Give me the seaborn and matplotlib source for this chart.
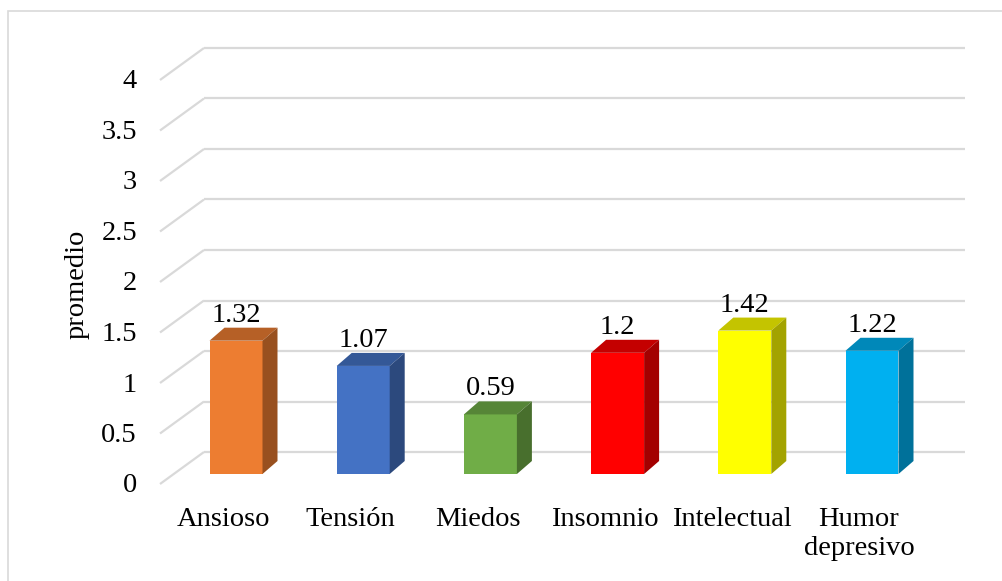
import matplotlib
matplotlib.use("Agg")
import matplotlib.pyplot as plt
from matplotlib.patches import Polygon, Rectangle
import matplotlib.colors as mcolors
import seaborn as sns
import pandas as pd

# Data
categories = ["Ansioso", "Tensión", "Miedos", "Insomnio", "Intelectual", "Humor\ndepresivo"]
values = [1.32, 1.07, 0.59, 1.2, 1.42, 1.22]
colors = ["#ED7D31", "#4472C4", "#70AD47", "#FF0000", "#FFFF00", "#00B0F0"]
yticks = [0, 0.5, 1, 1.5, 2, 2.5, 3, 3.5, 4]
ytick_labels = ["0", "0.5", "1", "1.5", "2", "2.5", "3", "3.5", "4"]
ylabel = "promedio"

sns.set_style("white")
plt.rcParams["font.family"] = ["Liberation Serif", "DejaVu Serif"]
FS = 20.5

W, H = 1002, 581
fig = plt.figure(figsize=(W / 100, H / 100), dpi=100)
ax = fig.add_axes([0, 0, 1, 1])

# Geometry of the pseudo-3D frame (pixel sizes converted to data units)
CAT_PX = 127.2           # pixels between category centres
VAL_PX = 101.0           # pixels per unit of value
X0_PX, Y0_PX = 236, 474  # pixel position of first category centre / value 0 on bar faces
px_x = 1.0 / CAT_PX
px_y = 1.0 / VAL_PX

xmin = -X0_PX * px_x
ymin = -(H - Y0_PX) * px_y

# Depth of the frame: back wall and front edge relative to bar faces
back_dy = 22 * px_y
front_dy = -10 * px_y
back_x0 = xmin + 204 * px_x
back_x1 = xmin + 965 * px_x
front_x = xmin + 160 * px_x
grid_col = "#D9D9D9"

for v, lab in zip(yticks, ytick_labels):
    ax.plot([back_x0, back_x1], [v + back_dy, v + back_dy], color=grid_col, lw=1.6,
            zorder=0, solid_capstyle="butt")
    ax.plot([front_x, back_x0], [v + front_dy, v + back_dy], color=grid_col, lw=1.6,
            zorder=0, solid_capstyle="butt")
    ax.text(xmin + 137 * px_x, v + front_dy - 2 * px_y, lab, ha="right", va="center",
            fontsize=FS, color="black")

# Bar faces
df = pd.DataFrame({"cat": categories, "val": values})
sns.barplot(data=df, x="cat", y="val", hue="cat", palette=colors, width=53 / CAT_PX,
            legend=False, ax=ax, saturation=1, linewidth=0, zorder=3)
ax.set_xlim(xmin, xmin + W * px_x)
ax.set_ylim(ymin, ymin + H * px_y)
ax.axis("off")


def shade(c, f):
    r, g, b = mcolors.to_rgb(c)
    return (r * f, g * f, b * f)


ddx = 15 * px_x
ddy = 13 * px_y
for i, (patch, v, c) in enumerate(zip(ax.patches[:len(values)], values, colors)):
    x0 = patch.get_x()
    x1 = x0 + patch.get_width()
    top = Polygon([(x0, v), (x1, v), (x1 + ddx, v + ddy), (x0 + ddx, v + ddy)],
                  closed=True, facecolor=shade(c, 0.77), edgecolor="none", zorder=3)
    side = Polygon([(x1, 0), (x1, v), (x1 + ddx, v + ddy), (x1 + ddx, ddy)],
                   closed=True, facecolor=shade(c, 0.64), edgecolor="none", zorder=3)
    ax.add_patch(top)
    ax.add_patch(side)
    ax.text(i, v + 19 * px_y, f"{v:g}", ha="center", va="baseline", fontsize=FS,
            color="black", zorder=4)
    ax.text(i - 13 * px_x, -33 * px_y, categories[i], ha="center", va="top",
            fontsize=FS, color="black", linespacing=1.22)

# Axis title
ax.text(xmin + 77 * px_x, ymin + (H - 284) * px_y, ylabel, rotation=90, ha="center",
        va="center", fontsize=FS, color="black")

# Chart border
fig.patches.append(Rectangle((8 / W, -0.05), 1.2, 1 - 11 / H + 0.05, transform=fig.transFigure,
                             fill=False, edgecolor="#D9D9D9", lw=1.2))

fig.savefig("out.png", dpi=100, facecolor="white")
